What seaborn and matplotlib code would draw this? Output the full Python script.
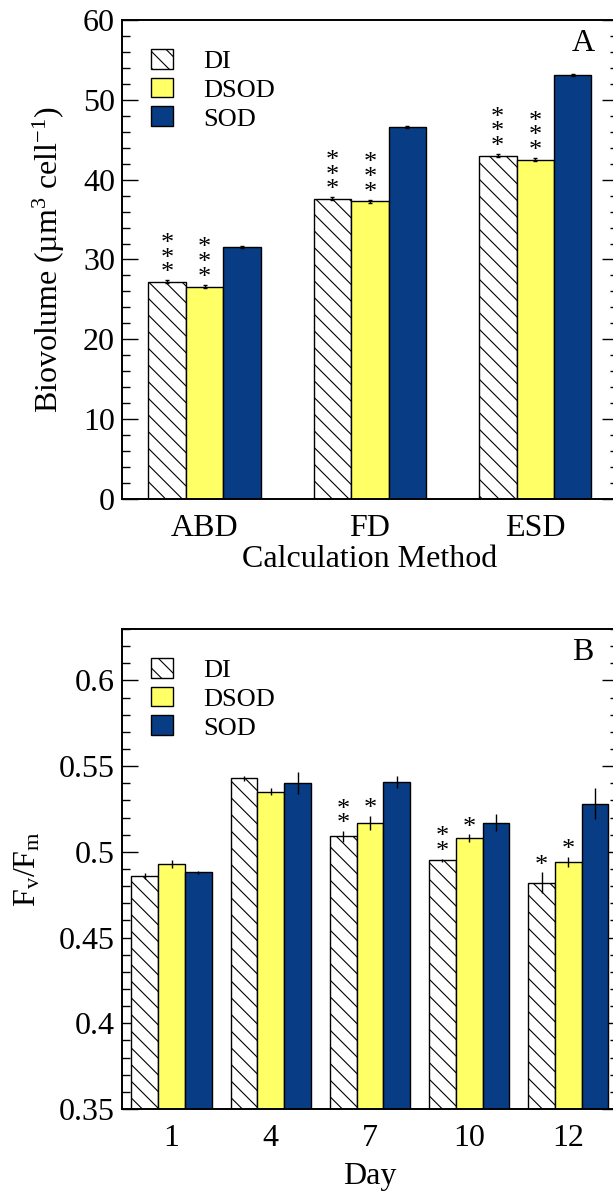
import matplotlib
matplotlib.use('Agg')
import matplotlib.pyplot as plt
import pandas as pd
import seaborn as sns
from matplotlib.ticker import MultipleLocator, FormatStrFormatter

groups = ['DI', 'DSOD', 'SOD']
group_colors = ['#FFFFFF', '#FFFF66', '#083C84']

# panel A - biovolume by calculation method
methods = ['ABD', 'FD', 'ESD']
bio_di = [27.2, 37.6, 43.0]
bio_dsod = [26.6, 37.3, 42.5]
bio_sod = [31.6, 46.6, 53.1]
bio_di_err = [0.2, 0.2, 0.2]
bio_dsod_err = [0.2, 0.2, 0.2]
bio_sod_err = [0.15, 0.15, 0.15]
bio_stars_di = ['***', '***', '***']
bio_stars_dsod = ['***', '***', '***']

# panel B - Fv/Fm by day
days = ['1', '4', '7', '10', '12']
fv_di = [0.486, 0.543, 0.509, 0.495, 0.482]
fv_dsod = [0.493, 0.535, 0.517, 0.508, 0.494]
fv_sod = [0.488, 0.540, 0.541, 0.517, 0.528]
fv_di_err = [0.0017, 0.0015, 0.003, 0.001, 0.006]
fv_dsod_err = [0.0025, 0.002, 0.004, 0.0022, 0.003]
fv_sod_err = [0.001, 0.0065, 0.0035, 0.005, 0.009]
fv_stars_di = ['', '', '**', '**', '*']
fv_stars_dsod = ['', '', '*', '*', '*']

sns.set_style('ticks')
plt.rcParams['font.family'] = ['Liberation Serif', 'DejaVu Serif']
plt.rcParams['mathtext.fontset'] = 'custom'
plt.rcParams['mathtext.rm'] = 'Liberation Serif'
plt.rcParams['mathtext.it'] = 'Liberation Serif:italic'
plt.rcParams['hatch.linewidth'] = 0.8
for key in ['text.color', 'axes.labelcolor', 'xtick.color', 'ytick.color', 'axes.edgecolor']:
    plt.rcParams[key] = 'black'


def draw_panel(ax, cats, di, dsod, sod, errs, stars, width, ylim, major, minor,
               xlabel, ylabel, letter, capsize):
    df = pd.DataFrame({
        'cat': cats * 3,
        'group': [g for g in groups for _ in cats],
        'value': di + dsod + sod,
    })
    sns.barplot(data=df, x='cat', y='value', hue='group', order=cats, hue_order=groups,
                palette=group_colors, width=width, errorbar=None, saturation=1,
                edgecolor='black', linewidth=1, legend=False, ax=ax)
    bars = list(ax.containers[:3])
    for p in bars[0].patches:
        p.set_hatch('\\\\')

    for cont, vals, err in zip(bars, [di, dsod, sod], errs):
        xs = [p.get_x() + p.get_width() / 2 for p in cont.patches]
        ax.errorbar(xs, vals, yerr=err, fmt='none', ecolor='black', elinewidth=1,
                    capsize=capsize, capthick=1)

    for cont, vals, err, st in zip(bars[:2], [di, dsod], errs[:2], stars):
        for p, v, e, s in zip(cont.patches, vals, err, st):
            if not s:
                continue
            ax.annotate('\n'.join(s), xy=(p.get_x() + p.get_width() / 2, v + e),
                        xytext=(0, -3), textcoords='offset points', ha='center',
                        va='bottom', fontsize=19, linespacing=0.58)

    ax.legend(handles=[c.patches[0] for c in bars], labels=groups, loc='upper left',
              bbox_to_anchor=(0.058, 0.94), borderaxespad=0, borderpad=0,
              frameon=False, fontsize=19, handlelength=0.85, handleheight=0.78,
              handletextpad=1.15, labelspacing=0.18)

    ax.set_ylim(*ylim)
    ax.set_xlim(-0.5, len(cats) - 0.5)
    ax.yaxis.set_major_locator(MultipleLocator(major))
    ax.yaxis.set_minor_locator(MultipleLocator(minor))
    ax.yaxis.set_major_formatter(FormatStrFormatter('%g'))
    ax.tick_params(axis='y', which='both', direction='in', left=True, right=True,
                   labelsize=23, pad=5)
    ax.tick_params(axis='y', which='major', length=11.5, width=1)
    ax.tick_params(axis='x', length=0, labelsize=23, pad=11)
    ax.tick_params(axis='y', which='minor', length=5.8, width=1)
    for sp in ax.spines.values():
        sp.set_linewidth(1.4)
        sp.set_visible(True)
    ax.set_xlabel(xlabel, fontsize=23)
    ax.set_ylabel(ylabel, fontsize=23)
    ax.text(0.93, 0.95, letter, transform=ax.transAxes, ha='center', va='center',
            fontsize=23)


fig = plt.figure(figsize=(6.13, 11.96), dpi=100)
ax_a = fig.add_axes([0.199, 0.5828, 0.809, 0.4005])
ax_b = fig.add_axes([0.199, 0.0727, 0.809, 0.4014])

draw_panel(ax_a, methods, bio_di, bio_dsod, bio_sod,
           [bio_di_err, bio_dsod_err, bio_sod_err], [bio_stars_di, bio_stars_dsod],
           0.68, (0, 60), 10, 2, 'Calculation Method',
           'Biovolume (µm$^3$ cell$^{-1}$)', 'A', 1.5)
draw_panel(ax_b, days, fv_di, fv_dsod, fv_sod,
           [fv_di_err, fv_dsod_err, fv_sod_err], [fv_stars_di, fv_stars_dsod],
           0.81, (0.35, 0.63), 0.05, 0.01, 'Day', 'F$_\\mathrm{v}$/F$_\\mathrm{m}$', 'B', 0)

ax_a.xaxis.labelpad = 1
ax_b.xaxis.labelpad = 6
ax_a.yaxis.set_label_coords(-0.11, 0.5)
ax_b.yaxis.set_label_coords(-0.16, 0.5)

fig.savefig('out.png', dpi=100)
